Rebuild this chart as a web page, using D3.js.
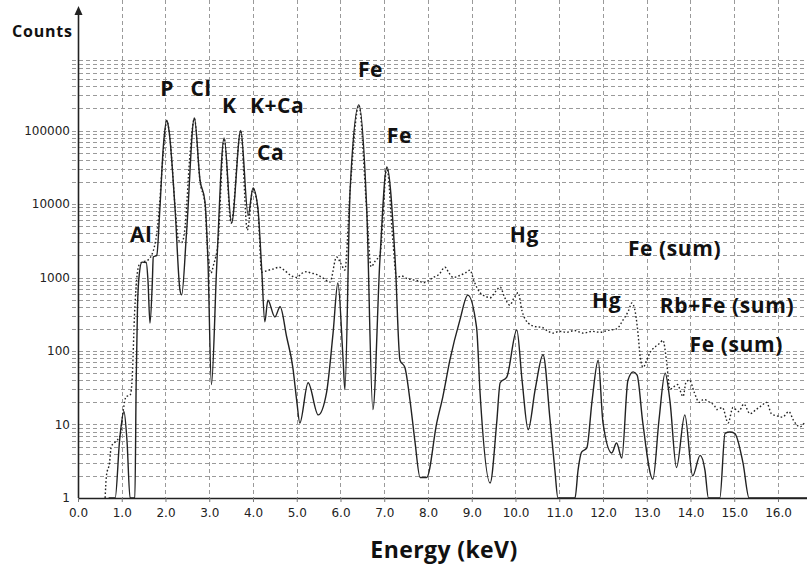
<!DOCTYPE html>
<html>
<head>
<meta charset="utf-8">
<script src="https://cdn.jsdelivr.net/npm/d3@7"></script>
<style>
  body { margin: 0; background: #fff; }
  svg { display: block; }
</style>
</head>
<body>
<div id="chart"></div>
<script>
/* spectrum 1 (solid line): energy in keV, counts */
var solidEnergy = [0.70, 0.85, 0.95, 1.05, 1.12, 1.19, 1.30, 1.33, 1.36, 1.40, 1.46, 1.56, 1.60, 1.645, 1.70, 1.72, 1.80, 1.87, 1.95, 2.03, 2.08, 2.22, 2.33, 2.37, 2.48, 2.66, 2.79, 2.90, 2.97, 3.05, 3.17, 3.34, 3.51, 3.72, 3.89, 4.00, 4.11, 4.20, 4.27, 4.34, 4.50, 4.62, 4.77, 4.91, 5.00, 5.07, 5.26, 5.49, 5.68, 5.83, 5.94, 6.06, 6.10, 6.22, 6.42, 6.60, 6.74, 6.90, 7.06, 7.25, 7.36, 7.47, 7.59, 7.70, 7.82, 7.97, 8.20, 8.34, 8.50, 8.73, 8.91, 9.11, 9.19, 9.42, 9.57, 9.65, 9.80, 10.03, 10.15, 10.29, 10.45, 10.63, 10.79, 10.90, 10.97, 11.36, 11.43, 11.51, 11.63, 11.75, 11.89, 12.00, 12.20, 12.31, 12.43, 12.57, 12.69, 12.78, 12.91, 13.14, 13.28, 13.42, 13.53, 13.68, 13.87, 14.05, 14.22, 14.33, 14.41, 14.67, 14.79, 14.90, 15.01, 15.20, 15.34, 16.67];
var solidCounts = [1, 1, 6, 15, 6, 1, 1, 40, 400, 1100, 1620, 1600, 900, 240, 900, 1900, 2000, 8300, 60000, 138000, 100000, 8300, 680, 580, 4000, 148000, 21000, 11000, 1700, 35, 1400, 79000, 5500, 100000, 7000, 16500, 9000, 1260, 250, 490, 290, 400, 155, 60, 21, 10.5, 37, 13.5, 27, 175, 840, 75, 30, 15500, 223000, 8300, 16, 1700, 32000, 1700, 75, 60, 21, 6, 1.9, 1.9, 10.5, 24, 75, 265, 575, 210, 27, 1.6, 10.5, 37, 44, 193, 40, 8.5, 30, 89, 11.5, 2.4, 1, 1, 2.4, 4.2, 4.8, 21, 75, 10.5, 4.1, 5.6, 3.5, 40, 52, 47, 10.5, 1.8, 11.5, 50, 21, 2.6, 13.5, 2, 3.8, 2.4, 1, 1, 7.6, 7.9, 7.6, 3, 1, 1];

/* spectrum 2 (dotted line) */
var dotEnergy = [0.62, 0.65, 0.72, 0.76, 0.88, 0.96, 1.03, 1.10, 1.19, 1.23, 1.30, 1.34, 1.40, 1.50, 1.58, 1.72, 1.83, 1.95, 2.03, 2.10, 2.22, 2.30, 2.37, 2.45, 2.55, 2.66, 2.79, 2.90, 2.97, 3.04, 3.10, 3.20, 3.34, 3.50, 3.72, 3.87, 4.00, 4.11, 4.20, 4.34, 4.45, 4.60, 4.72, 4.85, 5.00, 5.10, 5.22, 5.33, 5.45, 5.60, 5.76, 5.91, 6.02, 6.10, 6.22, 6.42, 6.60, 6.70, 6.80, 6.90, 7.06, 7.20, 7.28, 7.40, 7.50, 7.66, 7.78, 7.90, 8.00, 8.12, 8.25, 8.39, 8.48, 8.58, 8.70, 8.85, 8.96, 9.05, 9.19, 9.30, 9.42, 9.55, 9.65, 9.75, 9.87, 9.96, 10.06, 10.15, 10.29, 10.45, 10.60, 10.75, 10.86, 11.00, 11.17, 11.35, 11.55, 11.75, 11.93, 12.10, 12.31, 12.46, 12.58, 12.66, 12.72, 12.80, 12.85, 12.92, 13.00, 13.07, 13.20, 13.30, 13.37, 13.45, 13.53, 13.60, 13.70, 13.83, 13.90, 13.98, 14.08, 14.20, 14.30, 14.44, 14.55, 14.60, 14.73, 14.86, 14.97, 15.10, 15.22, 15.36, 15.50, 15.62, 15.74, 15.85, 16.00, 16.10, 16.25, 16.35, 16.50, 16.62];
var dotCounts = [1, 2, 3, 5, 6, 7, 15, 24, 25, 35, 400, 930, 1500, 1650, 1700, 2300, 5600, 50000, 135000, 80000, 9000, 3200, 3000, 5000, 40000, 145000, 20000, 10000, 2000, 1150, 1500, 3000, 78000, 5500, 100000, 4400, 16000, 8500, 1180, 1250, 1300, 1380, 1250, 1080, 1000, 1120, 1200, 1150, 1100, 980, 870, 1900, 1500, 1260, 15500, 220000, 8000, 1400, 1700, 2000, 31000, 3000, 1000, 1050, 980, 930, 900, 850, 900, 1000, 1100, 1380, 1150, 1000, 1050, 1150, 1260, 900, 620, 560, 530, 650, 740, 540, 420, 520, 620, 350, 240, 215, 210, 185, 175, 185, 180, 190, 175, 185, 180, 190, 200, 265, 350, 450, 380, 175, 83, 60, 75, 94, 115, 128, 140, 75, 30, 32, 35, 24, 38, 40, 28, 20, 22, 20, 18, 16, 17, 10.5, 17, 15, 19, 14, 16, 18, 20, 14, 13, 12.6, 15, 11.5, 9.3, 11];

/* axis ticks */
var energyTicks = [0, 1, 2, 3, 4, 5, 6, 7, 8, 9, 10, 11, 12, 13, 14, 15, 16];
var countTicks = [1, 10, 100, 1000, 10000, 100000];

/* peak labels: text, energy at left edge, counts at baseline */
var peakNames = ["Al", "P", "Cl", "K", "K+Ca", "Ca", "Fe", "Fe", "Hg", "Hg", "Fe (sum)", "Rb+Fe (sum)", "Fe (sum)"];
var peakLabelE = [1.19, 1.88, 2.57, 3.29, 3.93, 4.09, 6.40, 7.06, 9.87, 11.75, 12.57, 13.30, 13.98];
var peakLabelC = [3000, 294000, 294000, 173000, 173000, 39700, 534000, 67600, 3000, 385, 1960, 329, 97];

var W = 807, H = 567;

var svg = d3.select("#chart").append("svg")
  .attr("width", W)
  .attr("height", H)
  .style("font-family", "'Open Sans', sans-serif");

var x = d3.scaleLinear().domain([0, 16.6629]).range([78, 807]);
var y = d3.scaleLog().domain([1, 1e6]).range([498, 57]);

/* grid lines */
var gridVals = [];
countTicks.forEach(function(d) {
  for (var m = 1; m <= 9; m++) gridVals.push(d * m);
});

var grid = svg.append("g").attr("class", "grid")
  .attr("stroke", "#9a9a9a")
  .attr("stroke-width", 1)
  .attr("stroke-dasharray", "4,3");

grid.selectAll(".hgrid")
  .data(gridVals.filter(function(d) { return d > 1; }))
  .enter().append("line")
  .attr("x1", 72).attr("x2", W)
  .attr("y1", function(d) { return Math.round(y(d)) + 0.5; })
  .attr("y2", function(d) { return Math.round(y(d)) + 0.5; });

grid.selectAll(".vgrid")
  .data(energyTicks.filter(function(d) { return d > 0; }))
  .enter().append("line")
  .attr("y1", 0).attr("y2", 498)
  .attr("x1", function(d) { return Math.round(x(d)) + 0.5; })
  .attr("x2", function(d) { return Math.round(x(d)) + 0.5; });

/* axes */
var xAxis = d3.axisBottom(x)
  .tickValues(energyTicks)
  .tickFormat(d3.format(".1f"))
  .tickSize(4)
  .tickPadding(6);

var gx = svg.append("g")
  .attr("transform", "translate(0,498)")
  .call(xAxis);
gx.select(".domain").attr("d", "M78,0.5H" + W).attr("stroke", "#222").attr("stroke-width", 1.6);
gx.selectAll(".tick line").attr("stroke", "#777");
gx.selectAll("text")
  .style("font-family", "'DejaVu Sans', sans-serif")
  .style("font-size", "12px")
  .attr("fill", "#222");

var yAxis = d3.axisLeft(y)
  .tickValues(countTicks)
  .tickFormat(d3.format("d"))
  .tickSize(0)
  .tickPadding(8);

var gy = svg.append("g")
  .attr("transform", "translate(78,0)")
  .call(yAxis);
gy.select(".domain").remove();
gy.selectAll("text")
  .style("font-family", "'DejaVu Sans', sans-serif")
  .style("font-size", "12px")
  .attr("fill", "#222");

/* vertical axis with arrow */
svg.append("line")
  .attr("x1", 78.5).attr("x2", 78.5)
  .attr("y1", 498).attr("y2", 12)
  .attr("stroke", "#222").attr("stroke-width", 1.6);
svg.append("path")
  .attr("d", "M78.5,6 L82.5,15 L74.5,15 Z")
  .attr("fill", "#222");

/* the two spectra */
var solidData = solidEnergy.map(function(e, i) { return [e, Math.max(1, solidCounts[i])]; });
var dotData = dotEnergy.map(function(e, i) { return [e, Math.max(1, dotCounts[i])]; });

var line = d3.line()
  .curve(d3.curveMonotoneX)
  .x(function(d) { return x(d[0]); })
  .y(function(d) { return y(d[1]); });

svg.append("path")
  .datum(dotData)
  .attr("fill", "none")
  .attr("stroke", "#222")
  .attr("stroke-width", 1.4)
  .attr("stroke-dasharray", "1.6,2.2")
  .attr("d", line);

svg.append("path")
  .datum(solidData)
  .attr("fill", "none")
  .attr("stroke", "#222")
  .attr("stroke-width", 1.4)
  .attr("stroke-linejoin", "round")
  .attr("d", line);

/* peak labels */
svg.selectAll(".peak")
  .data(peakNames)
  .enter().append("text")
  .attr("class", "peak")
  .attr("x", function(d, i) { return x(peakLabelE[i]); })
  .attr("y", function(d, i) { return y(peakLabelC[i]); })
  .style("font-size", "21px")
  .style("font-weight", "bold")
  .style("letter-spacing", "0.6px")
  .attr("fill", "#111")
  .text(function(d) { return d; });

/* axis titles */
svg.append("text")
  .attr("x", 12).attr("y", 37)
  .style("font-size", "16px")
  .style("font-weight", "bold")
  .style("letter-spacing", "0.8px")
  .attr("fill", "#111")
  .text("Counts");

svg.append("text")
  .attr("x", 444).attr("y", 558)
  .attr("text-anchor", "middle")
  .style("font-size", "23px")
  .style("font-weight", "bold")
  .style("letter-spacing", "0.4px")
  .attr("fill", "#111")
  .text("Energy (keV)");
</script>
</body>
</html>
